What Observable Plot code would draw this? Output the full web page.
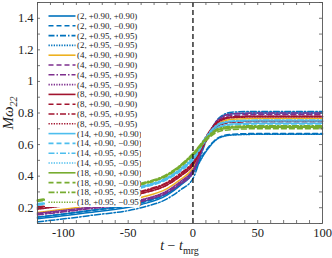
<!DOCTYPE html>
<html>
<head>
<meta charset="utf-8">
<script src="https://cdn.jsdelivr.net/npm/d3@7"></script>
<script src="https://cdn.jsdelivr.net/npm/@observablehq/plot@0.6"></script>
<style>
  body { margin: 0; background: #fff; }
  #wrap { position: relative; width: 332px; height: 258px; font-family: "Liberation Serif", serif; }
  #wrap svg text { font-family: "Liberation Serif", serif !important; }
  #legend { position: absolute; left: 45px; top: 10px; width: 96px; height: 197px; background: #fff; }
  .lab { position: absolute; font-family: "Liberation Serif", serif; color: #222; white-space: nowrap; }
</style>
</head>
<body>
<div id="wrap"></div>
<script>
// time samples
const times = [-120, -80, -40, -20, -10, 0, 10, 20, 30, 50, 100];

// series labels (q, chi1, chi2)
const labels = [
  "(2, +0.90, +0.90)", "(2, +0.90, \u22120.90)", "(2, +0.95, +0.95)", "(2, +0.95, \u22120.95)",
  "(4, +0.90, +0.90)", "(4, +0.90, \u22120.90)", "(4, +0.95, +0.95)", "(4, +0.95, \u22120.95)",
  "(8, +0.90, +0.90)", "(8, +0.90, \u22120.90)", "(8, +0.95, +0.95)", "(8, +0.95, \u22120.95)",
  "(14, +0.90, +0.90)", "(14, +0.90, \u22120.90)", "(14, +0.95, +0.95)", "(14, +0.95, \u22120.95)",
  "(18, +0.90, +0.90)", "(18, +0.90, \u22120.90)", "(18, +0.95, +0.95)", "(18, +0.95, \u22120.95)"
];

// M*omega_22 values for each series at the sample times
const s01 = [0.130, 0.170, 0.220, 0.280, 0.340, 0.420, 0.629, 0.762, 0.795, 0.800, 0.800];
const s02 = [0.140, 0.180, 0.230, 0.290, 0.350, 0.430, 0.562, 0.646, 0.665, 0.670, 0.670];
const s03 = [0.110, 0.150, 0.200, 0.256, 0.311, 0.385, 0.619, 0.768, 0.805, 0.810, 0.810];
const s04 = [0.140, 0.183, 0.235, 0.291, 0.346, 0.420, 0.555, 0.641, 0.660, 0.665, 0.665];
const s05 = [0.170, 0.213, 0.265, 0.321, 0.376, 0.450, 0.623, 0.734, 0.760, 0.765, 0.765];
const s06 = [0.160, 0.198, 0.245, 0.301, 0.356, 0.430, 0.628, 0.754, 0.785, 0.790, 0.790];
const s07 = [0.155, 0.193, 0.240, 0.294, 0.348, 0.420, 0.629, 0.762, 0.795, 0.800, 0.800];
const s08 = [0.165, 0.203, 0.250, 0.307, 0.364, 0.440, 0.627, 0.746, 0.775, 0.780, 0.780];
const s09 = [0.200, 0.245, 0.300, 0.354, 0.408, 0.480, 0.629, 0.723, 0.745, 0.750, 0.750];
const s10 = [0.195, 0.238, 0.290, 0.344, 0.398, 0.470, 0.621, 0.718, 0.740, 0.745, 0.745];
const s11 = [0.205, 0.250, 0.305, 0.361, 0.416, 0.490, 0.650, 0.751, 0.775, 0.780, 0.780];
const s12 = [0.190, 0.235, 0.290, 0.344, 0.398, 0.470, 0.638, 0.745, 0.770, 0.775, 0.775];
const s13 = [0.220, 0.270, 0.330, 0.384, 0.438, 0.510, 0.634, 0.713, 0.730, 0.735, 0.735];
const s14 = [0.215, 0.265, 0.325, 0.378, 0.430, 0.500, 0.627, 0.707, 0.725, 0.730, 0.730];
const s15 = [0.225, 0.275, 0.335, 0.391, 0.446, 0.520, 0.649, 0.732, 0.750, 0.755, 0.755];
const s16 = [0.220, 0.270, 0.330, 0.384, 0.438, 0.510, 0.642, 0.726, 0.745, 0.750, 0.750];
const s17 = [0.245, 0.292, 0.350, 0.407, 0.464, 0.540, 0.634, 0.693, 0.705, 0.710, 0.710];
const s18 = [0.240, 0.287, 0.345, 0.401, 0.456, 0.530, 0.624, 0.683, 0.695, 0.700, 0.700];
const s19 = [0.250, 0.297, 0.355, 0.412, 0.469, 0.545, 0.641, 0.703, 0.715, 0.720, 0.720];
const s20 = [0.245, 0.292, 0.350, 0.406, 0.461, 0.535, 0.634, 0.697, 0.710, 0.715, 0.715];
const seriesValues = [s01,s02,s03,s04,s05,s06,s07,s08,s09,s10,s11,s12,s13,s14,s15,s16,s17,s18,s19,s20];

// styles
const colors = [
  "#0072BD","#0072BD","#0072BD","#0072BD",
  "#EDB120","#7E2F8E","#7E2F8E","#7E2F8E",
  "#A2142F","#A2142F","#A2142F","#A2142F",
  "#4DBEEE","#4DBEEE","#4DBEEE","#4DBEEE",
  "#77AC30","#77AC30","#77AC30","#77AC30"
];
const dashKinds = ["none", "5,3", "6,2,1.5,2", "1.3,1.3"];

const yTickLabels = [0.2, 0.4, 0.6, 0.8, 1, 1.2, 1.4];
const xTickLabels = [-100, -50, 0, 50, 100];
const xMinor = d3.range(-120, 101, 10);
const yMinor = d3.range(0.1, 1.501, 0.1).map(v => +v.toFixed(2));

const rows = [];
seriesValues.forEach((vals, i) => {
  vals.forEach((v, j) => rows.push({ id: i, t: times[j], v }));
});

const W = 332, H = 258, mL = 37, mR = 10, mT = 2, mB = 35;
const fw = W - mL - mR, fh = H - mT - mB;

const lineMarks = seriesValues.map((_, i) =>
  Plot.line(rows.filter(r => r.id === i), {
    x: "t", y: "v", curve: "monotone-x",
    stroke: colors[i], strokeWidth: 1.5,
    strokeDasharray: dashKinds[i % 4]
  })
);

const chart = Plot.plot({
  width: W, height: H,
  marginLeft: mL, marginRight: mR, marginTop: mT, marginBottom: mB,
  style: "font-family: 'Liberation Serif', serif; background: #fff;",
  x: { domain: [-120, 100] },
  y: { domain: [0.1, 1.5] },
  marks: [
    ...lineMarks,
    Plot.ruleX([0], { stroke: "#111", strokeWidth: 1.3, strokeDasharray: "5,3" }),
    Plot.tickX(xMinor, { x: d => d, insetTop: fh - 3, stroke: "#555", strokeWidth: 0.8 }),
    Plot.tickX(xMinor, { x: d => d, insetBottom: fh - 3, stroke: "#555", strokeWidth: 0.8 }),
    Plot.tickY(yMinor, { y: d => d, insetRight: fw - 3, stroke: "#555", strokeWidth: 0.8 }),
    Plot.tickY(yMinor, { y: d => d, insetLeft: fw - 3, stroke: "#555", strokeWidth: 0.8 }),
    Plot.frame({ stroke: "#555", strokeWidth: 0.9 }),
    Plot.axisX(xTickLabels, { tickSize: 0, tickPadding: 5, fontSize: 12.5, tickFormat: d => String(d), label: null, fill: "#222" }),
    Plot.axisY(yTickLabels, { tickSize: 0, tickPadding: 4, fontSize: 12.5, tickFormat: d => (d === 1 ? "1" : d.toFixed(1)), label: null, fill: "#222" })
  ]
});

const wrap = document.getElementById("wrap");
wrap.appendChild(chart);

// legend
const leg = document.createElement("div");
leg.id = "legend";
const ns = "http://www.w3.org/2000/svg";
const lsvg = document.createElementNS(ns, "svg");
lsvg.setAttribute("width", 96); lsvg.setAttribute("height", 197);
labels.forEach((lab, i) => {
  const y = 6 + i * 9.8;
  const ln = document.createElementNS(ns, "line");
  ln.setAttribute("x1", 3.5); ln.setAttribute("x2", 30.5);
  ln.setAttribute("y1", y); ln.setAttribute("y2", y);
  ln.setAttribute("stroke", colors[i]); ln.setAttribute("stroke-width", 1.6);
  if (dashKinds[i % 4] !== "none") ln.setAttribute("stroke-dasharray", dashKinds[i % 4]);
  lsvg.appendChild(ln);
  const tx = document.createElementNS(ns, "text");
  tx.setAttribute("x", 32); tx.setAttribute("y", y + 3);
  tx.setAttribute("font-size", 8.9);
  tx.setAttribute("fill", "#222");
  tx.textContent = lab;
  lsvg.appendChild(tx);
});
leg.appendChild(lsvg);
wrap.appendChild(leg);

// axis titles
const xl = document.createElement("div");
xl.className = "lab";
xl.style.left = "0px"; xl.style.width = (mL + fw / 2) * 2 + "px";
xl.style.top = "238px"; xl.style.textAlign = "center"; xl.style.fontSize = "14px";
xl.innerHTML = "<i>t</i> \u2212 <i>t</i><sub style='font-size:10px'>mrg</sub>";
wrap.appendChild(xl);

const yl = document.createElement("div");
yl.className = "lab";
yl.style.fontSize = "15px";
yl.style.left = "9px"; yl.style.top = (mT + fh / 2) + "px";
yl.style.transform = "translate(-50%, -50%) rotate(-90deg)";
yl.innerHTML = "<i>M\u03c9</i><sub style='font-size:10px'><i>22</i></sub>";
wrap.appendChild(yl);
</script>
</body>
</html>
